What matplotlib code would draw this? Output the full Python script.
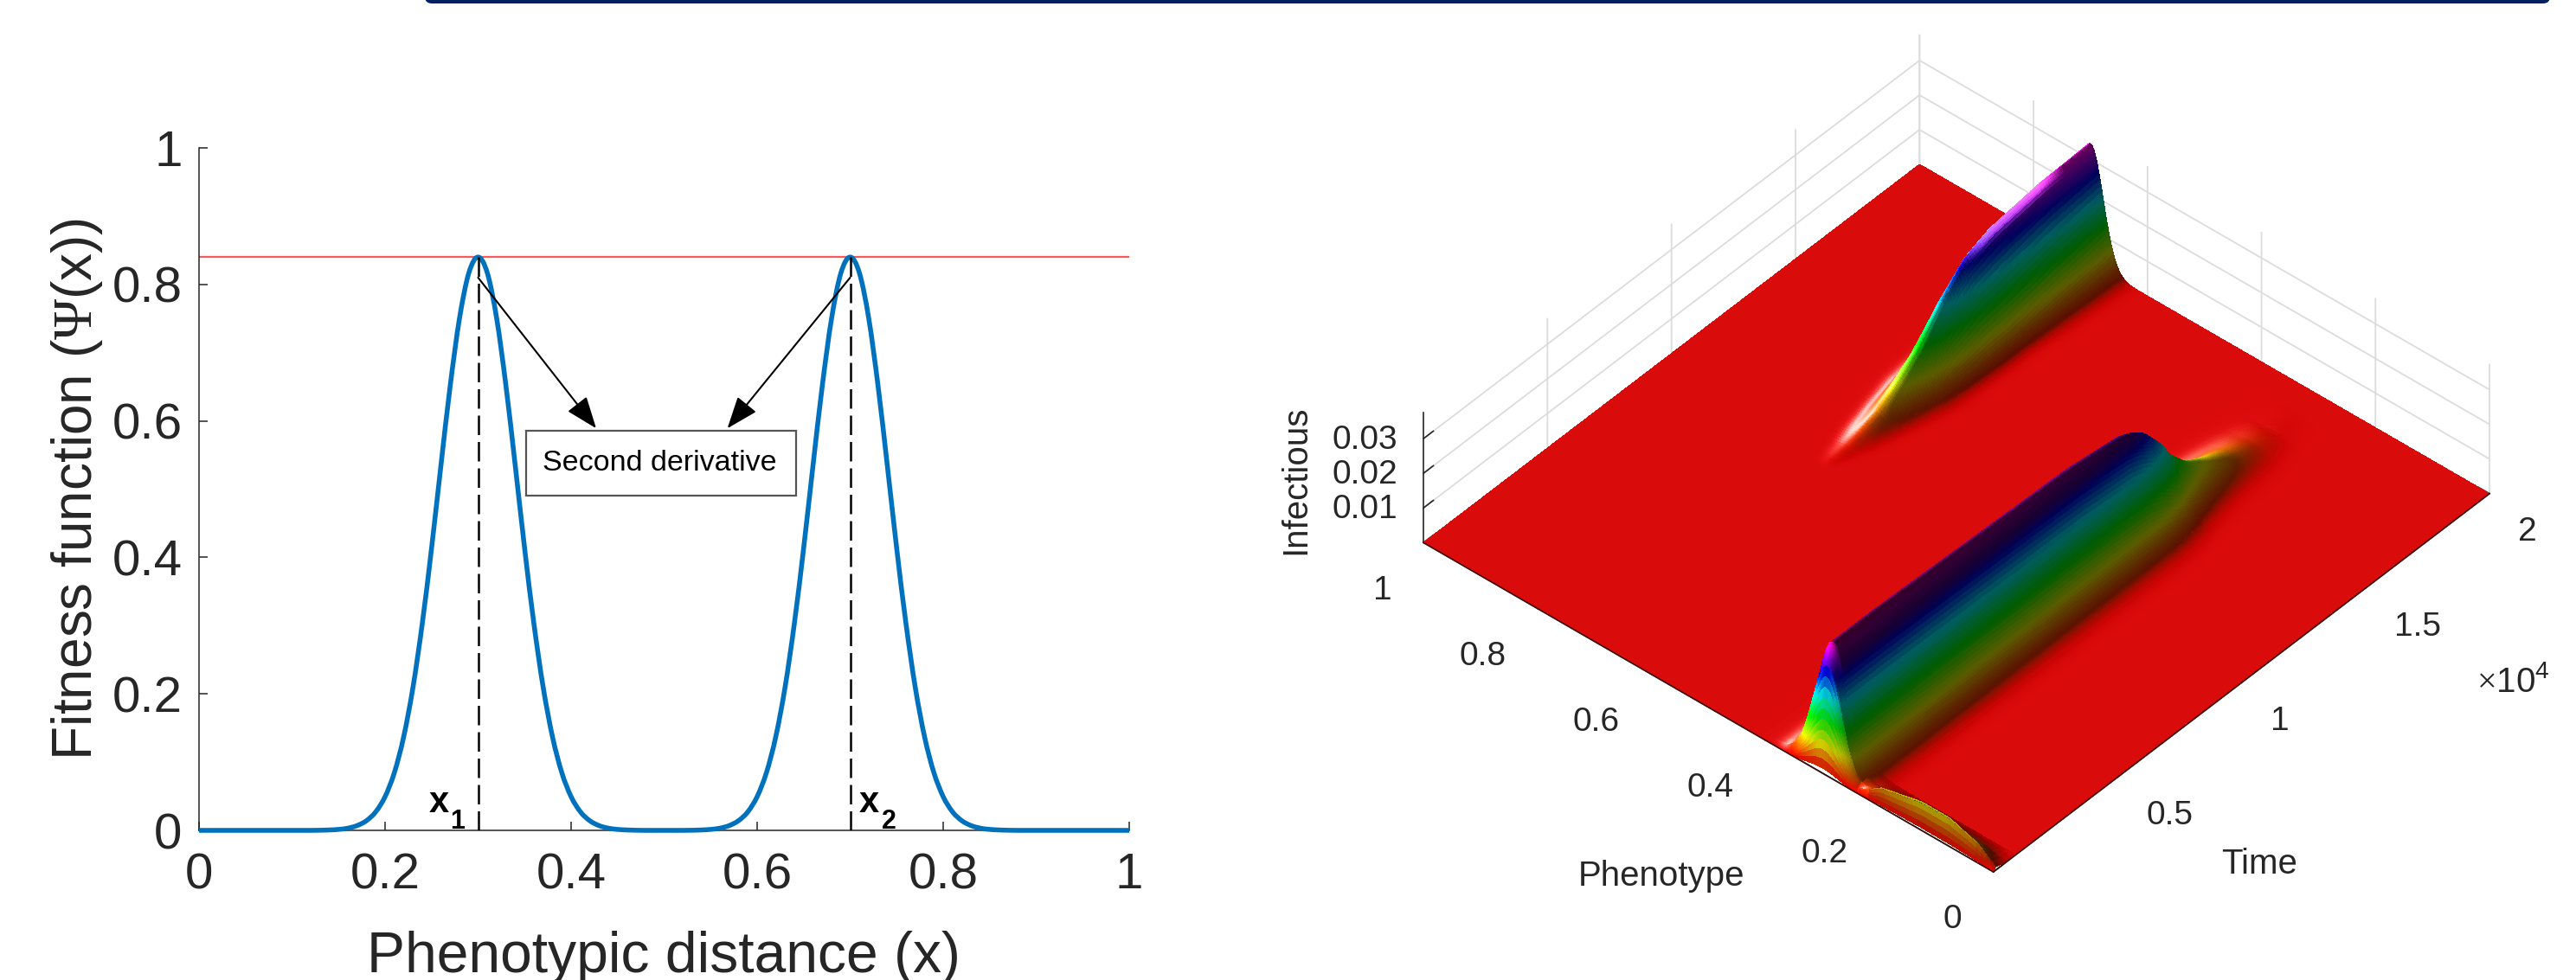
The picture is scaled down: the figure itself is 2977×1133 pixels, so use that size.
import numpy as np
import matplotlib
matplotlib.use("Agg")
import matplotlib.pyplot as plt
from matplotlib.patches import FancyBboxPatch, PathPatch, Rectangle
from matplotlib.path import Path
from mpl_toolkits.mplot3d import proj3d

plt.rcParams['font.family'] = ['Liberation Sans', 'DejaVu Sans']
plt.rcParams['mathtext.fontset'] = 'custom'
plt.rcParams['mathtext.rm'] = 'Liberation Serif'
plt.rcParams['path.simplify'] = False

W, H = 2977, 1133
TXT = '#262626'

# left panel, values every 0.01
fit_x = [i / 100 for i in range(101)]
fit_y = [0] * 13 + [.0002, .0006, .0014, .0032, .0070, .0142, .0272, .0494, .0846, .137, .2095, .303,
                    .4135, .534, .651, .750, .8165, .84, .8165, .750, .651, .534, .4135, .303, .2095,
                    .137, .0846, .0494, .0272, .0142, .0070, .0032, .0014, .0006, .0002, 0, 0, 0, 0, 0,
                    .0002, .0006, .0014, .0032, .0070, .0142, .0272, .0494, .0846, .137, .2095, .303,
                    .4135, .534, .651, .750, .8165, .84, .8165, .750, .651, .534, .4135, .303, .2095,
                    .137, .0846, .0494, .0272, .0142, .0070, .0032, .0014, .0006, .0002] + [0] * 13
peak_level = 0.84
peak_x = [0.3, 0.7]
left_ticks = [0, 0.2, 0.4, 0.6, 0.8, 1]
left_labels = ['0', '0.2', '0.4', '0.6', '0.8', '1']

ridge_t = [0, 80, 200, 400, 2000, 6000, 10000, 12000, 12460, 13000, 13600, 14000, 14660, 15400, 16400,
           17200, 18000, 19000, 20000]
low_h = [.0015, .012, .03, .0355, .0355, .0345, .0335, .0315, .030, .027, .021, .0155, .0098, .0065, .0032,
         .00125, .0002, 0, 0]
low_w = [.0255] * 9 + [.025, .024, .023, .022, .021, .021, .021, .021, .021, .021]
high_t = [0, 9200, 9600, 10100, 10600, 11400, 12200, 13000, 14000, 15000, 16000, 17000, 18000, 20000]
high_h = [0, 0, .0002, .0006, .0016, .004, .008, .013, .022, .029, .032, .033, .034, .0345]
high_w = [.006, .006, .008, .010, .012, .014, .016, .018, .018, .018, .018, .019, .020, .022]
bump_p = [0, .01, .03, .08, .13, .2, .24, 1]
bump_h = [.001, .002, .0048, .0075, .0075, .0048, 0, 0]
bump_t = [0, 80, 240, 500, 800, 20000]
bump_f = [.1, 1, .7, .25, 0, 0]
time_ticks = [5000, 10000, 15000, 20000]
time_labels = ['0.5', '1', '1.5', '2']
pheno_ticks = [0, 0.2, 0.4, 0.6, 0.8, 1]
pheno_labels = ['0', '0.2', '0.4', '0.6', '0.8', '1']
inf_ticks = [0.01, 0.02, 0.03]
inf_labels = ['0.01', '0.02', '0.03']


def px_rect(x0, y0, x1, y1):
    # pixel box from the top left of the picture -> figure fraction
    return [x0 / W, 1 - y1 / H, (x1 - x0) / W, (y1 - y0) / H]


def smooth_path(xs, ys):
    # bezier segments through the read points, so the line has no corners
    xs = np.array(xs, dtype=float)
    ys = np.array(ys, dtype=float)
    dy = np.gradient(ys, xs)
    step = (xs[1:] - xs[:-1]) / 3
    verts = [(xs[0], ys[0])]
    codes = [Path.MOVETO]
    for i in range(len(step)):
        verts += [(xs[i] + step[i], ys[i] + dy[i] * step[i]),
                  (xs[i + 1] - step[i], ys[i + 1] - dy[i + 1] * step[i]),
                  (xs[i + 1], ys[i + 1])]
        codes += [Path.CURVE4] * 3
    return Path(verts, codes)


fig = plt.figure(figsize=(W / 100, H / 100), dpi=100, facecolor='white')

# banner edge at the very top
bar = FancyBboxPatch((491, H - 4), 2456, 30, boxstyle='round,pad=0,rounding_size=8',
                     transform=None, facecolor='#002060', edgecolor='none', clip_on=True)
fig.add_artist(bar)

# ---- left panel ----
ax = fig.add_axes(px_rect(230, 171, 1305, 960))
ax.add_patch(PathPatch(smooth_path(fit_x, fit_y), fill=False, edgecolor='#0072BD', lw=4, clip_on=False, zorder=3))
ax.plot([0, 1], [peak_level, peak_level], color='#f65a5a', lw=1.6, zorder=2)
for p in peak_x:
    ax.plot([p, p], [0, peak_level], color='black', lw=1.8, dashes=(9, 3.2), zorder=4)
ax.set_xlim(0, 1)
ax.set_ylim(0, 1)
ax.set_xticks(left_ticks, left_labels)
ax.set_yticks(left_ticks, left_labels)
ax.tick_params(direction='in', length=7, width=1.1, color=TXT, labelsize=42, labelcolor=TXT)
ax.tick_params(axis='x', pad=18)
ax.tick_params(axis='y', pad=14)
ax.spines['top'].set_visible(False)
ax.spines['right'].set_visible(False)
ax.spines['left'].set_color(TXT)
ax.spines['bottom'].set_color(TXT)
ax.spines['left'].set_linewidth(1.1)
ax.spines['bottom'].set_linewidth(1.1)
ax.set_xlabel('Phenotypic distance (x)', fontsize=47.5, color=TXT, labelpad=27)
ax.set_ylabel(r'Fitness function ($\Psi$(x))', fontsize=46, color=TXT, labelpad=6)

for p, end in zip(peak_x, [(0.427, 0.589), (0.568, 0.589)]):
    ax.annotate('', xy=end, xytext=(p, 0.81),
                arrowprops=dict(arrowstyle='-|>,head_length=0.95,head_width=0.36', color='black', lw=1.5,
                                shrinkA=0, shrinkB=0, mutation_scale=24), zorder=5)
ax.add_patch(Rectangle((0.3516, 0.49), 0.2903, 0.096, facecolor='white', edgecolor='#555555', lw=1.6, zorder=6))
ax.text(0.495, 0.538, 'Second derivative', ha='center', va='center', fontsize=24.5, color='black', zorder=7)
ax.text(0.2577, 0.0405, 'x', fontsize=30, fontweight='bold', ha='center', va='center', color='black')
ax.text(0.278, 0.0127, '1', fontsize=22, fontweight='bold', ha='center', va='center', color='black', zorder=5)
ax.text(0.72, 0.0405, 'x', fontsize=30, fontweight='bold', ha='center', va='center', color='black')
ax.text(0.7414, 0.0127, '2', fontsize=22, fontweight='bold', ha='center', va='center', color='black', zorder=5)

# ---- right panel ----
ax3 = fig.add_axes(px_rect(1710, 10, 2810, 1110), projection='3d', computed_zorder=False)
ax3.set_proj_type('ortho')
ax3.view_init(elev=41.6, azim=-138.96)
ax3.set_box_aspect((1, 1, 0.23), zoom=1)
ax3.set_facecolor('none')

# mesh is finer across the two ridges and at the start of time
pp = np.unique(np.concatenate([np.linspace(0, 1, 126), np.linspace(.2, .4, 121), np.linspace(.6, .8, 121)]))
tt = np.unique(np.concatenate([np.linspace(0, 20000, 201), np.linspace(0, 800, 41)]))
T, P = np.meshgrid(tt, pp)
h_low = np.interp(T, ridge_t, low_h)
w_low = np.interp(T, ridge_t, low_w)
h_high = np.interp(T, high_t, high_h)
w_high = np.interp(T, high_t, high_w)
bump = np.interp(P, bump_p, bump_h) * np.interp(T, bump_t, bump_f)
Z = h_low * np.exp(-(P - 0.3) ** 2 / (2 * w_low ** 2)) + h_high * np.exp(-(P - 0.7) ** 2 / (2 * w_high ** 2))
Z = Z + bump

# colours: hsv by height, then lit the way the matlab surface is lit
side_px = 873.0
zp, zt = np.gradient(Z * 5349.0, pp * side_px, tt / 20000 * side_px)
norm = np.sqrt(zp ** 2 + zt ** 2 + 1)
nt, np_, nz = -zt / norm, -zp / norm, 1 / norm
diffuse = np.clip(-0.5 * nt + 0.65 * np_ + 0.57 * nz, 0, None)
bright = 0.36 + 0.86 * diffuse
hh = np.array([-0.25, 0.5, 0.83])
hh = hh / np.linalg.norm(hh)
spec = np.clip(hh[0] * nt + hh[1] * np_ + hh[2] * nz, 0, 1) ** 16
# the low hill at the front stays dull, and so does the top of the near ridge
dull = np.clip(bump / 0.001, 0, 1) * (P < 0.22)
top = np.clip((Z - 0.026) / 0.004, 0, 1) * (P < 0.5) * (T > 400)
# pink shine on the crest of the far ridge
pink = np.clip((Z - 0.026) / 0.005, 0, 1) * np.clip((P - 0.692) / 0.006, 0, 1)
pink = pink * np.interp(T, [14500, 15500, 17800, 18800], [0, 1, 1, 0])
bright = bright * (1 - 0.2 * dull) * (1 - 0.45 * top) + pink
spec = spec * (1 - dull) * (1 - top) + 0.5 * pink
rgb = matplotlib.colormaps['hsv'](np.clip(Z / 0.04, 0, 1))[..., :3] * np.clip(bright, 0, 1)[..., None]
rgb = rgb + (1 - rgb) * np.clip(spec, 0, 1)[..., None] * 0.85

surf = ax3.plot_surface(T, P, Z, facecolors=rgb, rstride=1, cstride=1, shade=False, antialiased=False,
                        linewidth=0, zorder=3)
surf.set_clip_on(False)
# front edges sit on top of the surface
ax3.plot([0, 0], [0, 1], [0, 0], color='#3a1010', lw=1.1, zorder=4, clip_on=False)
ax3.plot([0, 20000], [0, 0], [0, 0], color='#3a1010', lw=1.1, zorder=4, clip_on=False)

ax3.set_xlim(0, 20000, view_margin=0)
ax3.set_ylim(0, 1, view_margin=0)
ax3.set_zlim(0, 0.0375, view_margin=0)
ax3.set_xticks(time_ticks, time_labels)
ax3.set_yticks(pheno_ticks, pheno_labels)
ax3.set_zticks(inf_ticks, inf_labels)
for axis in [ax3.xaxis, ax3.yaxis, ax3.zaxis]:
    axis.set_pane_color((1, 1, 1, 0))
    axis.pane.set_edgecolor((1, 1, 1, 0))
    axis.line.set_color(TXT)
    axis.line.set_linewidth(1.2)
    axis._axinfo['grid'].update(color='#dcdcdc', linewidth=1.3)
    axis._axinfo['tick'].update(inward_factor=0, outward_factor=0.25)
    axis._axinfo['tick']['linewidth'] = {True: 1.2, False: 1.0}
    axis._axinfo['tick']['color'] = TXT
ax3.tick_params(axis='both', labelsize=28, labelcolor=TXT, color=TXT)
ax3.tick_params(axis='x', pad=15)
ax3.tick_params(axis='y', pad=21)
ax3.tick_params(axis='z', pad=3)
ax3.zaxis.set_ticks_position('upper')
plt.setp(ax3.get_xticklabels(), ha='left')
plt.setp(ax3.get_yticklabels(), ha='right')
plt.setp(ax3.get_zticklabels(), ha='right', va='center')


# put the floor corners where they are in the picture
def corner(x, y, z=0):
    xs, ys, _ = proj3d.proj_transform(x, y, z, ax3.get_proj())
    return ax3.transData.transform((xs, ys))


for _ in range(3):
    ax3.apply_aspect()
    a = corner(0, 1)
    b = corner(20000, 0)
    span = b[0] - a[0]
    pos = ax3.get_position(original=True)
    scale = (2877 - 1645) / span
    side = pos.width * W * scale
    cx = (pos.x0 + pos.width / 2) * W
    cy = (pos.y0 + pos.height / 2) * H
    ax3.set_position([(cx - side / 2) / W, (cy - side / 2) / H, side / W, side / H])
    ax3.apply_aspect()
    a = corner(0, 1)
    b = corner(20000, 0)
    dx = (1645 + 2877) / 2 - (a[0] + b[0]) / 2
    dy = (H - 627 + H - 571) / 2 - (a[1] + b[1]) / 2
    pos = ax3.get_position(original=True)
    ax3.set_position([pos.x0 + dx / W, pos.y0 + dy / H, pos.width, pos.height])

fig.text(1920 / W, 1 - 1013 / H, 'Phenotype', fontsize=29, color=TXT, ha='center', va='center')
fig.text(2611 / W, 1 - 999 / H, 'Time', fontsize=29, color=TXT, ha='center', va='center')
fig.text(1497 / W, 1 - 555 / H, 'Infectious', fontsize=29, color=TXT, ha='center', va='center', rotation=90)
fig.text(2904 / W, 1 - 788 / H, r'$\times\mathregular{10^4}$', fontsize=29, color=TXT, ha='center', va='center')

fig.savefig('out.png', dpi=100)
